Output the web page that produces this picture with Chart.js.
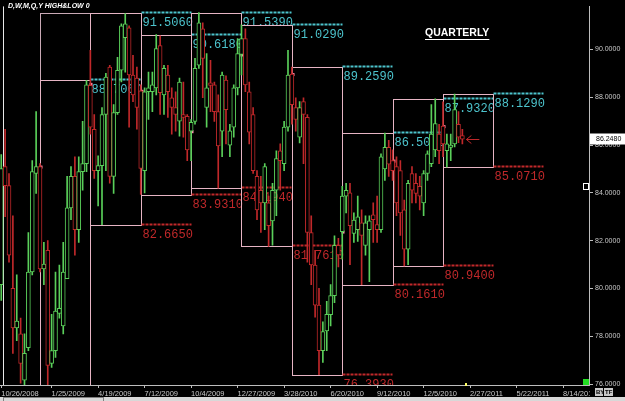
<!DOCTYPE html>
<html>
<head>
<meta charset="utf-8">
<script src="https://cdn.jsdelivr.net/npm/chart.js@4.4.1/dist/chart.umd.min.js"></script>
<style>
    html, body { margin: 0; padding: 0; background: #000; }
    canvas { display: block; }
</style>
</head>
<body>
<canvas id="chart" width="625" height="401"></canvas>
<script>
// weekly bars, index 0 = week of 10/26/2008
const weekOpen = [80.16, 85.10, 84.30, 80.00, 78.35, 78.10, 76.16, 77.52, 80.69, 84.81,
    85.10, 80.82, 81.60, 76.86, 77.40, 78.96, 78.43, 80.41, 83.37, 84.69,
    82.46, 84.89, 85.22, 88.50, 86.66, 84.93, 85.14, 87.28, 89.26, 84.69,
    87.36, 89.13, 90.49, 90.90, 88.93, 88.80, 88.27, 84.93, 88.23, 88.23,
    88.39, 90.16, 88.10, 88.93, 87.98, 87.57, 87.00, 87.28, 87.20, 86.58,
    86.99, 89.34, 90.86, 87.57, 88.60, 88.52, 87.40, 86.58, 88.72, 86.00,
    86.75, 88.39, 89.79, 90.45, 88.23, 87.28, 84.69, 84.11, 83.58, 83.58,
    82.83, 84.11, 85.76, 85.22, 86.75, 88.97, 87.57, 86.33, 87.82, 87.16,
    82.34, 80.98, 79.30, 77.40, 78.22, 78.90, 79.70, 81.80, 82.38, 83.86,
    84.00, 82.30, 82.46, 82.75, 81.80, 82.46, 83.08, 82.67, 82.46, 85.00,
    85.90, 85.35, 85.10, 84.93, 83.29, 81.64, 84.81, 84.40, 84.27, 83.58,
    84.81, 85.22, 85.80, 86.46, 86.79, 85.76, 85.90, 86.05, 86.87, 86.40];
const weekHigh = [85.60, 86.66, 84.81, 83.04, 80.57, 78.76, 78.10, 82.34, 85.35, 87.40,
    85.22, 81.93, 82.00, 78.92, 80.69, 80.98, 81.93, 84.69, 85.10, 85.51,
    85.51, 86.99, 88.706, 89.96, 87.28, 85.55, 87.57, 89.00, 89.34, 87.69,
    89.67, 91.07, 91.506, 90.99, 89.75, 89.26, 88.52, 88.39, 89.05, 89.05,
    90.618, 90.57, 89.34, 89.34, 88.39, 88.23, 88.80, 88.64, 87.28, 87.07,
    89.63, 91.539, 91.11, 89.83, 89.54, 88.64, 88.10, 89.05, 88.90, 86.87,
    88.52, 90.45, 91.029, 90.86, 88.64, 87.57, 84.93, 84.69, 85.22, 83.86,
    84.40, 85.76, 86.05, 86.99, 89.96, 89.259, 87.98, 87.82, 87.98, 87.28,
    83.04, 81.60, 80.00, 78.60, 79.46, 80.16, 82.20, 82.10, 84.27, 84.40,
    84.40, 83.16, 83.86, 83.29, 83.04, 83.04, 83.58, 83.86, 85.63, 86.501,
    86.20, 85.80, 85.51, 85.35, 83.70, 84.52, 85.10, 84.81, 84.69, 84.93,
    85.76, 87.69, 87.932, 86.87, 87.81, 86.46, 86.46, 88.129, 87.40, 86.66];
const weekLow = [79.50, 83.00, 81.10, 77.28, 77.81, 76.04, 75.90, 77.40, 80.57, 83.98,
    80.69, 80.16, 75.88, 76.70, 77.11, 78.76, 78.10, 80.41, 82.88, 81.39,
    81.93, 84.11, 84.89, 86.46, 84.60, 83.45, 82.665, 84.93, 84.40, 83.98,
    87.28, 88.64, 89.05, 86.75, 87.82, 86.66, 83.931, 84.00, 87.07, 87.40,
    88.10, 87.28, 87.28, 87.16, 86.46, 86.58, 86.37, 86.33, 85.35, 85.35,
    86.87, 89.21, 87.98, 86.75, 87.40, 86.99, 84.194, 85.51, 86.05, 85.51,
    86.33, 88.10, 88.93, 88.23, 86.05, 84.81, 82.88, 82.34, 82.46, 81.761,
    81.81, 83.04, 84.11, 84.93, 86.58, 86.87, 86.58, 86.09, 85.22, 81.10,
    80.16, 78.80, 76.393, 76.90, 77.40, 78.43, 79.40, 80.90, 81.23, 83.16,
    81.00, 81.93, 81.97, 80.161, 81.39, 80.28, 81.93, 81.93, 82.34, 84.52,
    84.69, 84.52, 83.04, 82.22, 80.94, 81.00, 83.58, 83.58, 83.29, 83.04,
    84.52, 85.10, 85.51, 85.22, 85.51, 85.071, 85.35, 85.92, 86.10, 86.05];
const weekClose = [85.02, 84.30, 81.39, 78.35, 78.63, 76.86, 77.28, 80.69, 84.89, 85.10,
    80.82, 81.02, 76.78, 77.40, 79.05, 79.17, 80.69, 83.37, 84.69, 82.46,
    84.89, 85.22, 88.52, 86.75, 84.93, 85.14, 87.28, 88.84, 84.69, 87.36,
    89.13, 90.99, 91.07, 88.93, 88.10, 87.57, 85.02, 88.23, 88.39, 88.52,
    90.04, 88.19, 89.21, 88.23, 87.57, 87.28, 88.64, 87.16, 85.80, 86.95,
    89.21, 91.11, 89.63, 88.39, 88.50, 87.40, 85.96, 88.93, 87.48, 86.60,
    88.39, 89.83, 90.45, 88.52, 86.54, 84.93, 83.29, 83.58, 85.10, 82.63,
    84.11, 85.43, 85.35, 86.75, 88.93, 87.69, 87.07, 87.57, 87.28, 82.34,
    80.98, 79.30, 77.40, 78.20, 78.92, 79.70, 81.80, 81.40, 83.86, 84.11,
    82.63, 82.86, 83.00, 82.22, 82.75, 82.83, 82.88, 82.46, 85.51, 85.90,
    85.20, 84.93, 83.58, 83.16, 81.64, 84.40, 84.11, 83.98, 83.86, 84.81,
    85.63, 86.46, 86.90, 85.76, 86.05, 86.05, 86.00, 87.48, 86.33, 86.248];

// quarters Q1 2009 .. Q1 2011 (first week index of each, last entry = end of Q1 2011)
const quarterStart = [10, 23, 36, 49, 62, 75, 88, 101, 114, 127];
const quarterOpen = [85.10, 88.56, 88.27, 86.58, 89.79, 88.97, 82.38, 85.35, 86.79];
const quarterHigh = [88.706, 91.506, 90.618, 91.539, 91.029, 89.259, 86.501, 87.932, 88.129];
const quarterLow = [75.88, 82.665, 83.931, 84.194, 81.761, 76.393, 80.161, 80.940, 85.071];

const dateTicks = [0, 13, 25, 37, 49, 61, 73, 85, 97, 109, 121, 133, 145];
const dateLabels = ['10/26/2008', '1/25/2009', '4/19/2009', '7/12/2009', '10/4/2009', '12/27/2009',
    '3/28/2010', '6/20/2010', '9/12/2010', '12/5/2010', '2/27/2011', '5/22/2011', '8/14/2011'];
const priceTicks = [76, 78, 80, 82, 84, 86, 88, 90];

const GREEN = '#5acf5a';
const RED = '#c0282a';
const candleColors = weekClose.map((c, i) => c >= weekOpen[i] ? GREEN : RED);
const weeks = weekOpen.map((_, i) => i);

const crisp = v => Math.round(v) + 0.5;

// quarter rectangles + their high/low tags
const quarterBoxes = {
    id: 'quarterBoxes',
    beforeDatasetsDraw(chart) {
        const { ctx, chartArea: a, scales: { x, y } } = chart;
        ctx.save();
        ctx.beginPath();
        ctx.rect(a.left, a.top, a.right - a.left, a.bottom - a.top);
        ctx.clip();

        // left frame line
        ctx.strokeStyle = '#e8e8e8';
        ctx.lineWidth = 1;
        ctx.beginPath();
        ctx.moveTo(a.left + 3.5, a.top);
        ctx.lineTo(a.left + 3.5, a.bottom);
        ctx.stroke();

        // extra frame over Q1 2009 (up to the Q2 high)
        ctx.strokeStyle = '#c9a9b5';
        const ex1 = crisp(x.getPixelForValue(quarterStart[0]));
        const ex2 = crisp(x.getPixelForValue(quarterStart[1]));
        const ey1 = crisp(y.getPixelForValue(quarterHigh[1]));
        const ey2 = crisp(y.getPixelForValue(quarterHigh[0]));
        ctx.strokeRect(ex1, ey1, ex2 - ex1, ey2 - ey1);

        ctx.font = '12px "Liberation Mono"';
        ctx.textBaseline = 'top';
        for (let q = 0; q < quarterHigh.length; q++) {
            const x1 = crisp(x.getPixelForValue(quarterStart[q]));
            const x2 = crisp(x.getPixelForValue(quarterStart[q + 1]));
            const yh = crisp(y.getPixelForValue(quarterHigh[q]));
            const yl = crisp(y.getPixelForValue(quarterLow[q]));

            ctx.strokeStyle = '#e6b4c4';
            ctx.lineWidth = 1;
            ctx.setLineDash([]);
            ctx.strokeRect(x1, yh, x2 - x1, yl - yh);

            // dashed level lines running into the next quarter
            ctx.lineWidth = 2;
            ctx.setLineDash([3, 1]);
            ctx.strokeStyle = '#4cc3cc';
            ctx.beginPath();
            ctx.moveTo(x2, yh - 1);
            ctx.lineTo(x2 + 50, yh - 1);
            ctx.stroke();
            ctx.strokeStyle = RED;
            ctx.beginPath();
            ctx.moveTo(x2, yl - 1);
            ctx.lineTo(x2 + 50, yl - 1);
            ctx.stroke();

            ctx.fillStyle = '#4cc3cc';
            ctx.fillText(quarterHigh[q].toFixed(4), x2 + 1, yh + 3);
            ctx.fillStyle = RED;
            ctx.fillText(quarterLow[q].toFixed(4), x2 + 1, yl + 3);

            // quarter open marker
            ctx.fillStyle = '#ff8fb0';
            ctx.fillRect(x1 - 1, y.getPixelForValue(quarterOpen[q]) - 1, 3, 3);
        }
        ctx.restore();
    }
};

const overlays = {
    id: 'overlays',
    afterDraw(chart) {
        const { ctx, chartArea: a, scales: { x, y } } = chart;
        ctx.save();
        ctx.textBaseline = 'top';
        ctx.fillStyle = '#fff';
        ctx.font = 'italic bold 7px "Liberation Sans"';
        ctx.fillText('D,W,M,Q,Y HIGH&LOW 0', 8, 3);

        ctx.font = 'bold 10.5px "Liberation Sans"';
        ctx.fillText('QUARTERLY', 425, 28);
        const w = ctx.measureText('QUARTERLY').width;
        ctx.fillRect(425, 39, w, 1);

        // last price arrow + tag
        const last = weekClose.length - 1;
        const lx = x.getPixelForValue(last);
        const ly = crisp(y.getPixelForValue(weekClose[last]));
        ctx.strokeStyle = RED;
        ctx.lineWidth = 1;
        ctx.beginPath();
        ctx.moveTo(lx + 4, ly);
        ctx.lineTo(lx + 17, ly);
        ctx.moveTo(lx + 9, ly - 4);
        ctx.lineTo(lx + 4, ly);
        ctx.lineTo(lx + 9, ly + 4);
        ctx.stroke();

        ctx.fillStyle = '#fff';
        ctx.fillRect(a.right + 1, ly - 6, 625 - a.right, 11);
        ctx.fillStyle = '#000';
        ctx.font = '7px "Liberation Sans"';
        ctx.textBaseline = 'middle';
        ctx.fillText(weekClose[last].toFixed(4), a.right + 7, ly);

        // small widgets near the axis
        ctx.strokeStyle = '#fff';
        ctx.strokeRect(583.5, 183.5, 5, 6);
        ctx.fillStyle = '#22dd22';
        ctx.fillRect(583, 379, 6, 6);
        ctx.fillStyle = '#ffff66';
        ctx.fillRect(465, 383, 2, 3);

        // hide the clipped date label under the corner, draw the corner buttons
        ctx.fillStyle = '#000';
        ctx.fillRect(a.right + 1, a.bottom + 1, 625 - a.right, 11);
        ctx.fillStyle = '#c8c8c8';
        ctx.fillRect(595, 388, 8, 8);
        ctx.fillRect(604, 388, 9, 8);
        ctx.fillStyle = '#000';
        ctx.font = 'bold 6px "Liberation Sans"';
        ctx.fillText('BY', 596, 392);
        ctx.fillText('TF', 605, 392);

        // scrollbar strip at the bottom
        ctx.fillStyle = '#d8d8d8';
        ctx.fillRect(0, 397, 625, 4);
        ctx.strokeStyle = '#808080';
        ctx.strokeRect(3.5, 397.5, 100, 4);
        ctx.restore();
    }
};

new Chart(document.getElementById('chart'), {
    type: 'bar',
    data: {
        datasets: [{
            label: 'range',
            data: weeks.map(i => ({ x: i, y: [weekLow[i], weekHigh[i]] })),
            backgroundColor: candleColors,
            barThickness: 1,
            grouped: false,
            order: 2
        },
        {
            label: 'body',
            data: weeks.map(i => ({ x: i, y: [weekOpen[i], weekClose[i]] })),
            backgroundColor: '#000',
            borderColor: candleColors,
            borderWidth: 1,
            borderSkipped: false,
            barThickness: 4,
            grouped: false,
            order: 1
        }]
    },
    options: {
        responsive: false,
        animation: false,
        events: [],
        layout: { padding: 0 },
        plugins: {
            legend: { display: false },
            tooltip: { enabled: false }
        },
        scales: {
            x: {
                type: 'linear',
                offset: false,
                min: -0.3226,
                max: 151.68,
                afterFit(s) { s.height = 16; },
                afterBuildTicks(s) { s.ticks = dateTicks.map(v => ({ value: v })); },
                grid: { offset: false, drawOnChartArea: false, tickLength: 3, color: '#bdbdbd' },
                border: { color: '#bdbdbd' },
                ticks: {
                    align: 'start',
                    maxRotation: 0,
                    autoSkip: false,
                    padding: 1,
                    color: '#c8c8c8',
                    font: { family: 'Liberation Sans', size: 7.5 },
                    callback: (v, i) => dateLabels[i]
                }
            },
            y: {
                position: 'right',
                min: 75.96,
                max: 91.81,
                afterFit(s) { s.width = 36; },
                afterBuildTicks(s) { s.ticks = priceTicks.map(v => ({ value: v })); },
                grid: { drawOnChartArea: false, tickLength: 4, color: '#bdbdbd' },
                border: { color: '#bdbdbd' },
                ticks: {
                    padding: 2,
                    color: '#c8c8c8',
                    font: { family: 'Liberation Sans', size: 7 },
                    callback: v => v.toFixed(4)
                }
            }
        }
    },
    plugins: [quarterBoxes, overlays]
});
</script>
</body>
</html>
